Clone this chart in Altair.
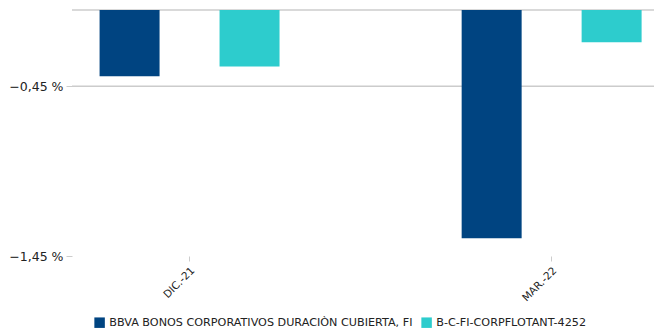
import altair as alt
import pandas as pd

categories = ["DIC.-21", "MAR.-22"]
series = ["BBVA BONOS CORPORATIVOS DURACIÒN CUBIERTA, FI", "B-C-FI-CORPFLOTANT-4252"]
fund_values = [-0.39, -1.345]
bench_values = [-0.333, -0.19]
colors = ["#004481", "#2DCCCD"]
y_ticks = [-1.45, -0.45]
grid_values = [0.0, -0.45]

rows = []
for i, c in enumerate(categories):
    rows.append({"cat": c, "serie": series[0], "value": fund_values[i]})
    rows.append({"cat": c, "serie": series[1], "value": bench_values[i]})
df = pd.DataFrame(rows)
grid_df = pd.DataFrame({"y": grid_values})

bars = alt.Chart(df).mark_bar().encode(
    x=alt.X("cat:N", sort=categories, title=None,
            scale=alt.Scale(paddingInner=0.503, paddingOuter=0.0552, align=0.69),
            axis=alt.Axis(labelAngle=315, labelAlign="right", labelBaseline="top",
                          domain=False, tickSize=5, tickColor="#cccccc",
                          labelFont="DejaVu Sans", labelFontSize=10.5, labelColor="#222222",
                          labelPadding=4)),
    xOffset=alt.XOffset("serie:N", sort=series,
                        scale=alt.Scale(paddingInner=0.5, paddingOuter=0)),
    y=alt.Y("value:Q", title=None,
            scale=alt.Scale(domain=[-1.45, 0], nice=False, zero=False),
            axis=alt.Axis(values=y_ticks, grid=False, domain=False, tickSize=6,
                          tickColor="#cccccc", labelFont="DejaVu Sans", labelFontSize=12.5,
                          labelColor="#222222", labelPadding=3, minExtent=62,
                          labelExpr="replace(format(datum.value, '.2f'), '.', ',') + ' %'")),
    color=alt.Color("serie:N", sort=series,
                    scale=alt.Scale(domain=series, range=colors),
                    legend=alt.Legend(title=None, orient="none", direction="horizontal",
                                      legendX=22, legendY=307,
                                      symbolType="square", symbolSize=110,
                                      symbolStrokeWidth=0,
                                      labelFont="DejaVu Sans", labelFontSize=11.2,
                                      labelColor="#222222",
                                      columnPadding=8, labelLimit=450)),
)

grid = alt.Chart(grid_df).mark_rule(color="#cccccc", strokeWidth=1.5).encode(
    y=alt.Y("y:Q")
)

chart = alt.layer(grid, bars).properties(
    width=582, height=246,
    padding={"left": 0, "top": 1, "right": 0, "bottom": 0},
).configure_view(stroke=None)

chart.save("out.html", embed_options={"renderer": "svg", "actions": False})
